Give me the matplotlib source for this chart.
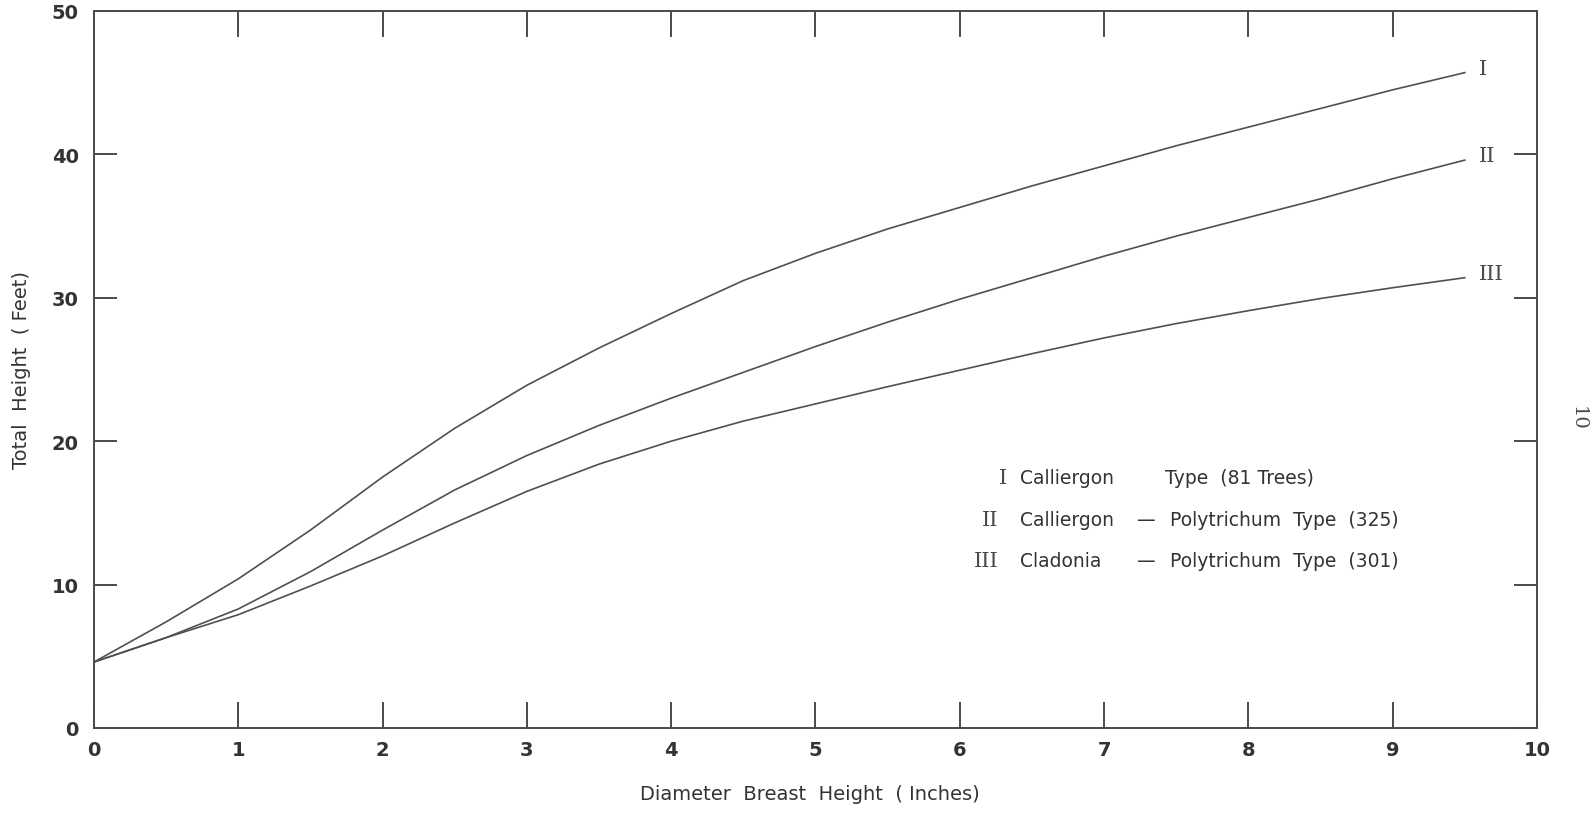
import numpy as np
import matplotlib
matplotlib.use("Agg")
import matplotlib.pyplot as plt

# diameter breast height (inches)
dbh = [0, 0.5, 1, 1.5, 2, 2.5, 3, 3.5, 4, 4.5, 5, 5.5, 6, 6.5, 7, 7.5, 8, 8.5, 9, 9.5]

# total height (feet)
h_calliergon = [4.6, 7.4, 10.4, 13.8, 17.5, 20.9, 23.9, 26.5, 28.9, 31.2, 33.1, 34.8, 36.3,
                37.8, 39.2, 40.6, 41.9, 43.2, 44.5, 45.7]
h_call_poly = [4.6, 6.3, 8.3, 10.9, 13.8, 16.6, 19.0, 21.1, 23.0, 24.8, 26.6, 28.3, 29.9,
               31.4, 32.9, 34.3, 35.6, 36.9, 38.3, 39.6]
h_clad_poly = [4.6, 6.3, 7.9, 9.9, 12.0, 14.3, 16.5, 18.4, 20.0, 21.4, 22.6, 23.8, 24.95,
               26.1, 27.2, 28.2, 29.1, 29.95, 30.7, 31.4]

curve_names = ["I", "II", "III"]
legend_numerals = ["I", "II", "III"]
legend_names = ["Calliergon", "Calliergon", "Cladonia"]
legend_rest = ["Type  (81 Trees)", "Polytrichum  Type  (325)", "Polytrichum  Type  (301)"]

ink = "#4a4a4a"
txt = "#333333"
sans = "DejaVu Sans"
serif = "DejaVu Serif"

fig = plt.figure(figsize=(15.96, 8.2), dpi=100)
ax = fig.add_axes([0.0589, 0.111, 0.9041, 0.8744])

for h in [h_calliergon, h_call_poly, h_clad_poly]:
    ax.plot(dbh, h, color="#505050", lw=1.2, solid_joinstyle="round")

ax.set_xlim(0, 10)
ax.set_ylim(0, 50)
ax.set_xticks(range(0, 11))
ax.set_yticks(range(0, 51, 10))

for s in ax.spines.values():
    s.set_color(ink)
    s.set_linewidth(1.4)

ax.tick_params(axis="x", direction="in", length=19, width=1.4, color=ink,
               top=True, pad=9, labelsize=14, labelcolor=txt)
ax.tick_params(axis="y", direction="in", length=16.5, width=1.4, color=ink,
               right=True, pad=11, labelsize=14, labelcolor=txt)
for lab in ax.get_xticklabels() + ax.get_yticklabels():
    lab.set_family(sans)
    lab.set_fontweight("semibold")

# curve labels at the right end
for name, h in zip(curve_names, [h_calliergon, h_call_poly, h_clad_poly]):
    ax.text(9.6, h[-1] + 0.3, name, family=serif, fontsize=15, color=ink,
            ha="left", va="center")

# legend block
rows_y = [17.5, 14.53, 11.67]
num_x = [6.33, 6.27, 6.27]
for i in range(3):
    ax.text(num_x[i], rows_y[i], legend_numerals[i], family=serif, fontsize=15,
            color=ink, ha="right", va="center")
    ax.text(6.42, rows_y[i], legend_names[i], family=sans, fontsize=13.5,
            color=txt, ha="left", va="center")
    if i == 0:
        ax.text(7.42, rows_y[i], legend_rest[i], family=sans, fontsize=13.5,
                color=txt, ha="left", va="center")
    else:
        ax.text(7.29, rows_y[i], "\u2014", family=sans, fontsize=13.5,
                color=txt, ha="center", va="center")
        ax.text(7.46, rows_y[i], legend_rest[i], family=sans, fontsize=13.5,
                color=txt, ha="left", va="center")

fig.text(810 / 1596, 1 - 795 / 820, "Diameter  Breast  Height  ( Inches)", family=sans,
         fontsize=14, color=txt, ha="center", va="center")
fig.text(22 / 1596, 1 - 370 / 820, "Total  Height  ( Feet)", family=sans,
         fontsize=14, color=txt, ha="center", va="center", rotation=90)
fig.text(1578 / 1596, 1 - 418 / 820, "10", family=serif, fontsize=14,
         color=ink, ha="center", va="center", rotation=270)

fig.savefig("out.png", dpi=100, facecolor="white")
